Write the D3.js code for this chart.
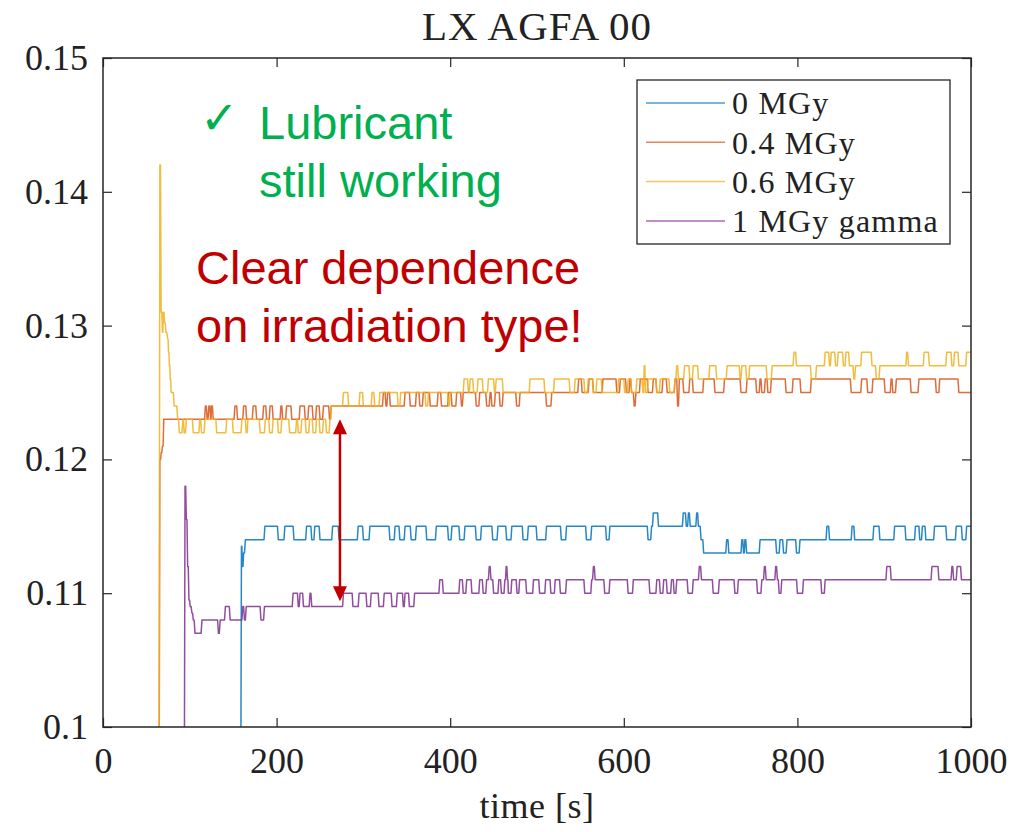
<!DOCTYPE html>
<html>
<head>
<meta charset="utf-8">
<script src="https://cdn.jsdelivr.net/npm/d3@7/dist/d3.min.js"></script>
<style>
  body { margin: 0; background: #fff; }
  text { font-family: "Liberation Serif", "Times New Roman", serif; }
</style>
</head>
<body>
<div id="chart"></div>
<script>
// legend labels, one per series
const seriesNames = ['0 MGy', '0.4 MGy', '0.6 MGy', '1 MGy gamma'];
const xTicks = [0, 200, 400, 600, 800, 1000];
const yTicks = [0.1, 0.11, 0.12, 0.13, 0.14, 0.15];

// friction runs: [time s, value held from that time]
const runs0MGy = [[0,0.09],[159.5,0.1135],[160.5,0.112],[162,0.113],[164,0.114],
  [186.5,0.115],[202,0.114],[209.5,0.115],[220,0.114],[234.5,0.115],[240.5,0.114],[244,0.115],[250,0.114],
  [264.5,0.115],[272,0.114],[294,0.115],[300,0.114],[307.5,0.115],[330.5,0.114],[336.5,0.115],
  [342,0.114],[348,0.115],[355,0.114],[361,0.115],[373,0.114],[384,0.115],[398,0.114],[402,0.115],
  [411,0.114],[417,0.115],[430,0.114],[436,0.115],[449,0.114],[455,0.115],[465,0.114],[471,0.115],
  [484,0.114],[490,0.115],[500,0.114],[511,0.115],[528,0.114],[534,0.115],[557,0.114],[563,0.115],
  [580,0.114],[584,0.115],[628,0.114],[632,0.115],[634,0.116],[640,0.115],[668.5,0.116],[672,0.115],
  [674.5,0.116],[676.5,0.115],[684,0.116],[686,0.115],[689,0.114],[692,0.113],
  [718.5,0.114],[721,0.113],[736,0.114],[738,0.113],[739.5,0.114],[741.5,0.113],[757,0.114],[776,0.113],
  [780,0.114],[784,0.113],[788,0.114],[799,0.113],[803,0.114],
  [834,0.115],[837,0.114],[863,0.115],[866,0.114],[888,0.115],[895,0.114],[912,0.115],[925,0.114],
  [936,0.115],[941,0.114],[944,0.115],[948,0.114],[958,0.115],[972,0.114],[983,0.115],[990,0.114],
  [995,0.115],[1000,0.115]];

const runs04MGy = [[0,0.09],[65.5,0.120],[67,0.1205],[68.5,0.121],[70,0.123],
  [118,0.124],[120,0.123],[122,0.124],[124,0.123],[125,0.124],[127,0.123],[152,0.124],[155,0.123],
  [162,0.124],[165.5,0.123],[173,0.124],[177,0.123],[185,0.124],[188.5,0.123],[192.5,0.124],[196,0.123],
  [205,0.124],[207,0.123],[211.5,0.124],[217.5,0.123],[227,0.124],[233,0.123],[237,0.124],[242,0.123],
  [246,0.124],[250,0.123],[254,0.124],[261,0.123],[263,0.124],
  [323,0.125],[326,0.124],[328,0.125],[331,0.124],[348,0.125],[354,0.124],[361,0.125],[365,0.124],
  [369,0.125],[377,0.124],[386,0.125],[390,0.124],[398,0.125],[402,0.124],[407.5,0.125],[413,0.124],
  [415,0.125],[430,0.124],[434,0.125],[442,0.124],[446,0.125],[448,0.124],[452,0.125],[457.5,0.124],
  [461,0.125],[476.5,0.124],[480.5,0.125],[511,0.124],[517,0.125],[548,0.126],[552,0.125],[560,0.126],
  [565,0.125],[576,0.126],[592,0.125],[596,0.126],[603,0.125],[607,0.126],[609,0.125],[612,0.124],
  [614,0.125],[619,0.126],[628,0.125],[634,0.126],[638,0.125],[645,0.126],[650,0.125],[659,0.126],
  [662,0.124],[664,0.126],[669,0.125],[676,0.126],[680,0.125],[692,0.126],[705,0.125],[716,0.126],
  [735,0.125],[742,0.126],[753,0.125],[757,0.126],[759,0.125],[763,0.126],[766,0.125],[770,0.126],
  [787,0.125],[795,0.126],[804,0.125],[816,0.126],[862,0.125],[874,0.126],[881,0.125],[887,0.126],
  [901,0.125],[908,0.126],[910,0.125],[914,0.126],[931,0.125],[940,0.126],[960,0.125],[964,0.126],
  [986,0.125],[1000,0.125]];

const runs06MGy = [[0,0.09],[65.5,0.142],[67,0.131],[68.5,0.1295],[69.5,0.131],[71,0.1302],[72.5,0.1295],
  [74.5,0.129],[75.5,0.128],[76.5,0.127],[77.5,0.126],[78.5,0.125],[82,0.124],[86,0.123],[88,0.122],
  [92,0.123],[93.5,0.122],[96,0.123],[104,0.122],[111.5,0.123],[113.5,0.122],[117.5,0.123],[131,0.122],
  [142.5,0.123],[150,0.122],[160,0.123],[165,0.122],[167,0.123],[181,0.122],[187,0.123],[192,0.122],
  [196,0.123],[202,0.122],[206,0.123],[215,0.122],[223,0.123],[225,0.122],[229,0.123],[234,0.122],
  [238,0.123],[242,0.122],[246,0.123],[250,0.122],[254,0.123],[257.5,0.122],[261.5,0.123],[263,0.124],
  [277,0.125],[283,0.124],[296,0.125],[300,0.124],[310,0.125],[313,0.124],[319,0.125],[340,0.124],
  [343,0.125],[372,0.124],[375,0.125],[398,0.124],[400,0.125],
  [416,0.126],[421,0.125],[423,0.126],[427,0.125],[432,0.126],[438,0.125],[444,0.126],[451,0.125],
  [453,0.126],[461,0.125],[492,0.126],[509,0.125],[520,0.126],[538,0.125],[544,0.126],[555,0.125],
  [559,0.126],[565,0.125],[569,0.126],[575,0.125],[594,0.126],[601,0.125],[605,0.126],[609,0.125],
  [615,0.126],[622,0.125],[623.5,0.127],[625,0.125],[628,0.126],[638,0.125],[642,0.126],[653,0.125],
  [659,0.126],[661,0.127],[663,0.126],[670,0.127],[676,0.126],[680,0.127],[686,0.126],[699,0.127],
  [707,0.126],[719,0.127],[734,0.126],[736,0.127],[741.5,0.126],[745,0.127],[765,0.126],[771,0.127],
  [796,0.128],[799,0.127],[816,0.126],[822,0.127],[832,0.128],[837,0.127],[839,0.128],[844,0.127],
  [847,0.128],[853,0.127],[856,0.128],[860,0.127],[865,0.126],[867,0.127],[874,0.128],[886,0.127],
  [891,0.126],[895,0.127],[926,0.128],[928,0.127],[946,0.128],[952,0.127],[972,0.128],[978,0.127],
  [981,0.128],[986,0.127],[995,0.128],[1000,0.128]];

const runs1MGyGamma = [[0,0.09],[94.5,0.118],[96,0.1155],[97.5,0.112],[99,0.1095],[100.5,0.109],
  [102.5,0.1085],[104,0.108],[106,0.107],[114,0.108],[133,0.107],[135,0.108],[141,0.109],[146.5,0.108],
  [161,0.109],[163,0.108],[165,0.109],[182,0.108],[186,0.109],[219,0.110],[225,0.109],[227,0.110],
  [231,0.109],[238.5,0.110],[240.5,0.109],[277,0.110],[288,0.109],[295,0.110],[304,0.109],[309,0.110],
  [318,0.109],[324,0.110],[333,0.109],[339,0.110],[346,0.109],[348,0.110],[353,0.109],[359,0.110],
  [388,0.111],[392,0.110],[411,0.111],[415,0.110],[419,0.111],[425,0.110],[434,0.111],[438,0.110],
  [442,0.111],[445,0.112],[447,0.111],[450,0.110],[456,0.111],[459,0.110],[463,0.111],[464.5,0.112],
  [466,0.111],[467,0.110],[471,0.111],[477,0.110],[480,0.111],[488,0.110],[496,0.111],[503,0.110],
  [510,0.111],[516,0.110],[521,0.111],[527,0.110],[534,0.111],[555,0.110],[563,0.111],[565,0.112],
  [567,0.111],[578,0.110],[584,0.111],[605,0.110],[611,0.111],[630,0.110],[638,0.111],[642,0.110],
  [646,0.111],[650,0.110],[655,0.111],[658,0.110],[661,0.111],[674,0.110],[680,0.111],[687,0.112],
  [689.5,0.111],[703,0.110],[710,0.111],[728,0.110],[732,0.111],[754,0.110],[759,0.111],[762,0.112],
  [764,0.111],[775,0.112],[777,0.111],[779,0.110],[782,0.111],[800,0.110],[807,0.111],[828,0.110],
  [832,0.111],[903,0.112],[908,0.111],[955,0.112],[963,0.111],[978,0.112],[980,0.111],[984,0.112],
  [989,0.111],[1000,0.111]];

const allRuns = [runs0MGy, runs04MGy, runs06MGy, runs1MGyGamma];
const lineColors = ['#0072BD', '#D95319', '#EDB120', '#7E2F8E'];

const width = 1035, height = 832;
const plot = { left: 103, right: 971, top: 58, bottom: 727 };

const svg = d3.select('#chart').append('svg')
  .attr('width', width).attr('height', height);

const x = d3.scaleLinear().domain([0, 1000]).range([plot.left, plot.right]);
const y = d3.scaleLinear().domain([0.1, 0.15]).range([plot.bottom, plot.top]);

svg.append('clipPath').attr('id', 'clip')
  .append('rect')
  .attr('x', plot.left).attr('y', plot.top)
  .attr('width', plot.right - plot.left).attr('height', plot.bottom - plot.top);

// each run is held flat, then ramps to the next sample in ~1 s
function toPoints(runs) {
  const pts = [];
  runs.forEach((r, i) => {
    pts.push(r);
    const next = runs[i + 1];
    if (next) {
      const ramp = Math.min(1, (next[0] - r[0]) / 2);
      pts.push([next[0] - ramp, r[1]]);
    }
  });
  return pts;
}

const line = d3.line().x(d => x(d[0])).y(d => y(d[1]));

const lines = svg.append('g').attr('clip-path', 'url(#clip)');
allRuns.forEach((runs, i) => {
  lines.append('path')
    .attr('d', line(toPoints(runs)))
    .attr('fill', 'none')
    .attr('stroke', lineColors[i])
    .attr('stroke-width', 1.5)
    .attr('stroke-opacity', 0.85)
    .attr('stroke-linejoin', 'round');
});

// axes: ticks point inward on all four sides, like matlab box on
const axisColor = '#262626';
const gx = svg.append('g').attr('transform', `translate(0,${plot.bottom})`)
  .call(d3.axisBottom(x).tickValues(xTicks).tickSize(-9).tickPadding(20).tickFormat(d3.format('d')));
const gxTop = svg.append('g').attr('transform', `translate(0,${plot.top})`)
  .call(d3.axisTop(x).tickValues(xTicks).tickSize(-9).tickFormat(''));
const gy = svg.append('g').attr('transform', `translate(${plot.left},0)`)
  .call(d3.axisLeft(y).tickValues(yTicks).tickSize(-9).tickPadding(15).tickFormat(d => d3.format('')(+d.toFixed(2))));
const gyRight = svg.append('g').attr('transform', `translate(${plot.right},0)`)
  .call(d3.axisRight(y).tickValues(yTicks).tickSize(-9).tickFormat(''));

[gx, gxTop, gy, gyRight].forEach(g => {
  g.select('.domain').remove();
  g.selectAll('line').attr('stroke', axisColor).attr('stroke-width', 1.2);
  g.selectAll('text').attr('fill', '#222').style('font-size', '36px')
    .style('font-family', '"Liberation Serif", serif');
});

svg.append('rect')
  .attr('x', plot.left).attr('y', plot.top)
  .attr('width', plot.right - plot.left).attr('height', plot.bottom - plot.top)
  .attr('fill', 'none').attr('stroke', axisColor).attr('stroke-width', 1.5);

// title and axis label
svg.append('text').attr('x', (plot.left + plot.right) / 2).attr('y', 40)
  .attr('text-anchor', 'middle').attr('fill', '#222').style('font-size', '41px')
  .style('letter-spacing', '1px')
  .text('LX AGFA 00');
svg.append('text').attr('x', (plot.left + plot.right) / 2).attr('y', 818)
  .attr('text-anchor', 'middle').attr('fill', '#222').style('font-size', '36px')
  .style('letter-spacing', '0.5px')
  .text('time [s]');

// legend
const legend = svg.append('g');
legend.append('rect')
  .attr('x', 637).attr('y', 80).attr('width', 313).attr('height', 164)
  .attr('fill', '#fff').attr('stroke', axisColor).attr('stroke-width', 1.3);
seriesNames.forEach((name, i) => {
  const ly = 103 + i * 39.3;
  legend.append('line')
    .attr('x1', 646).attr('x2', 725).attr('y1', ly).attr('y2', ly)
    .attr('stroke', lineColors[i]).attr('stroke-width', 1.5).attr('stroke-opacity', 0.7);
  legend.append('text')
    .attr('x', 732).attr('y', ly).attr('dy', '0.35em')
    .attr('fill', '#222').style('font-size', '32px').style('letter-spacing', '1.2px')
    .text(name);
});

// slide annotations
const green = '#00B050', red = '#C00000';
const note = svg.append('g').style('font-family', '"Liberation Sans", Arial, sans-serif');
note.append('text').attr('x', 200).attr('y', 134).attr('fill', green)
  .style('font-family', '"DejaVu Sans", sans-serif').style('font-size', '46px').text('✓');
note.append('text').attr('x', 259).attr('y', 139).attr('fill', green)
  .style('font-size', '47px').style('font-family', '"Liberation Sans", Arial, sans-serif').text('Lubricant');
note.append('text').attr('x', 259).attr('y', 197).attr('fill', green)
  .style('font-size', '47px').style('font-family', '"Liberation Sans", Arial, sans-serif').text('still working');
note.append('text').attr('x', 196).attr('y', 284).attr('fill', red)
  .style('font-size', '47px').style('font-family', '"Liberation Sans", Arial, sans-serif').text('Clear dependence');
note.append('text').attr('x', 196).attr('y', 342).attr('fill', red)
  .style('font-size', '47px').style('font-family', '"Liberation Sans", Arial, sans-serif').text('on irradiation type!');

// double arrow between the 0.4/0.6 and the gamma curves
const ax = x(273), ayTop = y(0.123), ayBot = y(0.1094);
const head = 15, half = 7;
note.append('line')
  .attr('x1', ax).attr('x2', ax).attr('y1', ayTop + head - 2).attr('y2', ayBot - head + 2)
  .attr('stroke', red).attr('stroke-width', 2.5);
note.append('path')
  .attr('d', `M${ax},${ayTop}L${ax - half},${ayTop + head}L${ax + half},${ayTop + head}Z`)
  .attr('fill', red);
note.append('path')
  .attr('d', `M${ax},${ayBot}L${ax - half},${ayBot - head}L${ax + half},${ayBot - head}Z`)
  .attr('fill', red);
</script>
</body>
</html>
